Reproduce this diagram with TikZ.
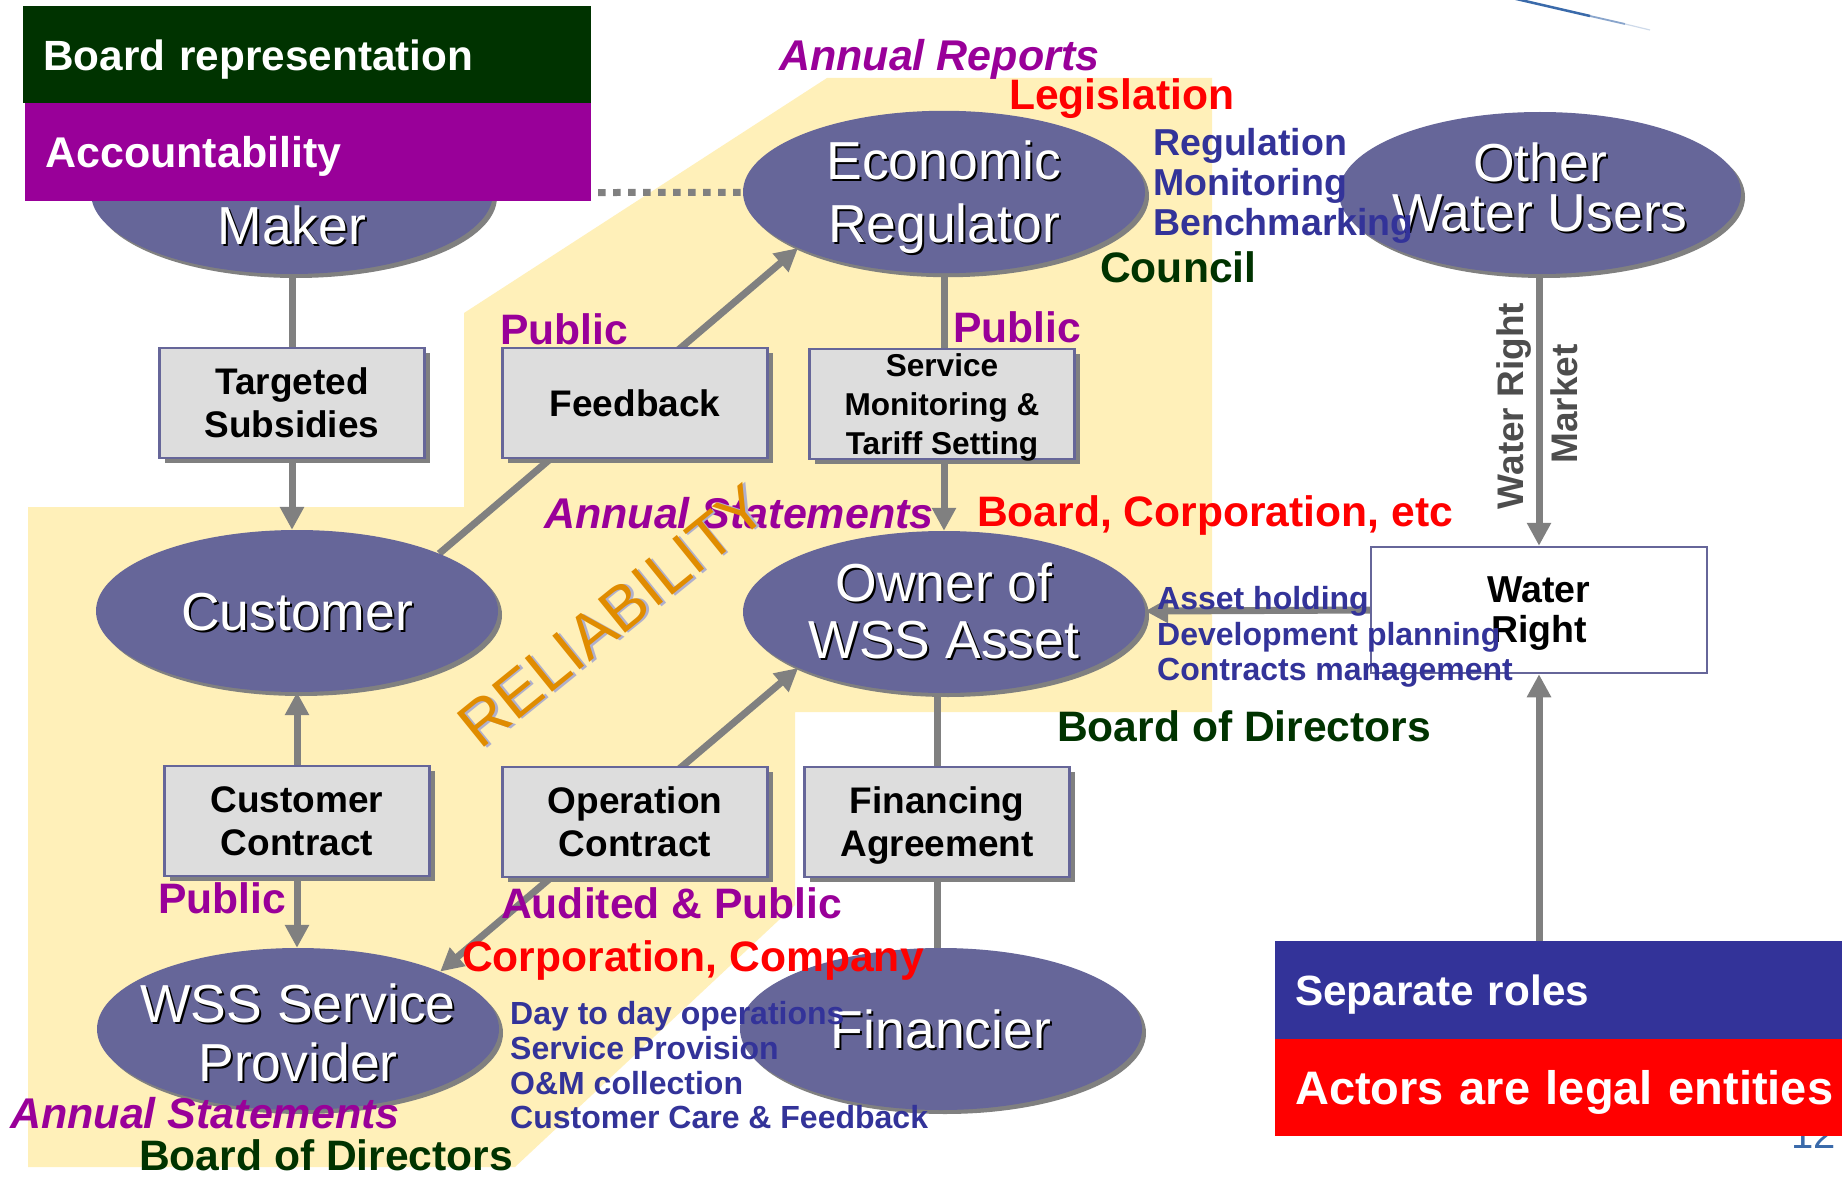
\documentclass[tikz,border=0pt]{standalone}
\usepackage{fontspec}
\setmainfont{Liberation Sans}
\usetikzlibrary{shapes.geometric,arrows.meta,shadows,backgrounds}
\definecolor{ellfill}{HTML}{666699}
\definecolor{boxfill}{HTML}{DDDDDD}
\definecolor{boxline}{HTML}{666699}
\definecolor{shgray}{HTML}{808080}
\definecolor{conngray}{HTML}{808080}
\definecolor{paleyellow}{RGB}{255,240,185}
\definecolor{dgreen}{HTML}{003300}
\definecolor{purp}{HTML}{990099}
\definecolor{dblue}{HTML}{333399}
\definecolor{redc}{HTML}{FF0000}
\definecolor{wrgray}{HTML}{4D4D4D}
\definecolor{relorange}{HTML}{E08C00}
\definecolor{relshadow}{RGB}{175,175,205}
\definecolor{pageblue}{HTML}{3A6AAA}

\pgfdeclarelayer{bgl}
\pgfdeclarelayer{linel}
\pgfsetlayers{bgl,linel,main}

\newcommand{\shd}[2]{\leavevmode\rlap{\kern2pt\raisebox{-2pt}{\color{#1}#2}}#2}
\newcommand{\shv}[2]{\raisebox{#1}[\height][\depth]{\shd{black}{#2}}}

\tikzset{
 ell/.style={ellipse, fill=ellfill, minimum width=402pt, minimum height=162pt, inner xsep=-40pt, inner ysep=0pt,
   text=white, align=center, font=\fontsize{53.5pt}{60pt}\selectfont,
   drop shadow={shadow xshift=4pt, shadow yshift=-4pt, fill=shgray, opacity=1}},
 gbox/.style={rectangle, fill=boxfill, draw=boxline, line width=2.5pt, minimum width=265pt,
   minimum height=110pt, inner sep=0pt, align=center, text depth=0pt, font=\bfseries\fontsize{37pt}{43pt}\selectfont,
   drop shadow={shadow xshift=5pt, shadow yshift=-5pt, fill=shgray, opacity=1}},
 conn/.style={draw=conngray, line width=7pt},
 arr/.style={conn, -{Triangle[length=23pt,width=23pt]}},
 lbl/.style={anchor=base west, inner sep=0pt, font=\bfseries\fontsize{42.6pt}{48pt}\selectfont},
 lbli/.style={anchor=base west, inner sep=0pt, font=\bfseries\itshape\fontsize{43pt}{48pt}\selectfont},
 sml/.style={anchor=base west, inner sep=0pt, text=dblue, font=\bfseries\fontsize{32pt}{36pt}\selectfont},
 band/.style={rectangle, anchor=north west, inner xsep=20pt, inner ysep=0pt, text=white, align=left, text depth=0pt},
}

\begin{document}
\begin{tikzpicture}[x=1pt,y=-1pt]
\useasboundingbox (0,0) rectangle (1842,1177);
\begin{pgfonlayer}{bgl}
\fill[white] (0,0) rectangle (1842,1177);
\fill[paleyellow] (28,507) -- (464,507) -- (464,313) -- (827,78) -- (1212,78) -- (1212,712)
  -- (795,712) -- (795,905) -- (515,1167) -- (28,1167) -- cycle;
\draw[pageblue, line width=2.5pt] (1512,-2) -- (1590,16);
\draw[pageblue!60, line width=1.8pt] (1590,16) -- (1625,24);
\draw[pageblue!25, line width=1.2pt] (1625,24) -- (1650,30);
\node[anchor=base east, inner sep=0pt, text=pageblue, font=\fontsize{40pt}{48pt}\selectfont] (pagenum) at (1836,1148) {12};
\end{pgfonlayer}

% ellipses
\node[ell, text height=102pt, text depth=0pt] (maker) at (292,193) {\shd{black}{Maker}};
\node[ell, font=\fontsize{53.5pt}{63pt}\selectfont] (er) at (944,192) {\shv{-6pt}{Economic}\\\shv{-6pt}{Regulator}};
\node[ell, font=\fontsize{53.5pt}{50pt}\selectfont] (owu) at (1540,193) {\shv{5pt}{Other}\\\shv{5pt}{Water Users}};
\node[ell] (cust) at (297,611) {\shv{-2pt}{Customer}};
\node[ell, font=\fontsize{53.5pt}{57pt}\selectfont] (owner) at (944,612) {\shd{black}{Owner of}\\\shd{black}{WSS Asset}};
\node[ell, font=\fontsize{53.5pt}{59pt}\selectfont] (wsp) at (298,1029) {\shv{-5pt}{WSS Service}\\\shv{-5pt}{Provider}};
\node[ell] (fin) at (941,1029) {\shv{-1pt}{Financier}};

% boxes
\node[gbox] (ts) at (292,403) {Targeted\\Subsidies};
\node[gbox] (fb) at (635,403) {Feedback};
\node[gbox, font=\bfseries\fontsize{31.6pt}{39pt}\selectfont] (smt) at (942,404) {Service\\Monitoring \&\\Tariff Setting};
\node[gbox] (cc) at (297,821) {Customer\\Contract};
\node[gbox] (oc) at (635,822) {Operation\\Contract};
\node[gbox] (fa) at (937,822) {Financing\\Agreement};
\node[rectangle, draw=boxline, fill=white, line width=2.5pt, minimum width=336pt, minimum height=126pt,
  inner sep=0pt, align=center, text depth=0pt, font=\bfseries\fontsize{37.5pt}{40pt}\selectfont] (wr) at (1539,610) {Water\\Right};

% bands
\node[band, fill=dgreen, text width=528pt, minimum height=97pt, font=\bfseries\fontsize{42.3pt}{48pt}\selectfont] (brd) at (23,6) {Board representation};
\node[band, fill=purp, text width=526pt, minimum height=98pt, font=\bfseries\fontsize{43pt}{48pt}\selectfont] (acc) at (25,103) {Accountability};
\node[band, fill=dblue, text width=527pt, minimum height=98pt, font=\bfseries\fontsize{42.3pt}{48pt}\selectfont] (sep) at (1275,941) {Separate roles};
\node[band, fill=redc, text width=527pt, minimum height=97pt, font=\bfseries\fontsize{47pt}{54pt}\selectfont] (act) at (1275,1039) {\mbox{Actors are legal entities}};

% connectors
\begin{pgfonlayer}{linel}
\draw[conn, dash pattern=on 7.5pt off 7.5pt] (maker) -- (er);
\draw[conn] (maker.south) -- (ts.north);
\draw[arr] (ts.south) -- (ts.south |- cust.north);
\draw[arr] (cust.22) -- (er.201);
\draw[arr] (er.south) -- (owner.north);
\draw[arr] (wr.north |- owu.south) -- (wr.north);
\draw[arr] (wr.west) -- (owner);
\draw[arr] (wr.south |- sep.north) -- (wr.south);
\draw[arr] (cc.north) -- (cc.north |- cust.south);
\draw[arr] (cc.south) -- (cc.south |- wsp.north);
\draw[conn, {Triangle[length=23pt,width=23pt]}-{Triangle[length=23pt,width=23pt]}] (wsp.22) -- (owner.201);
\draw[conn] (fa.north) -- (fa.north |- owner.south);
\draw[conn] (fa.south) -- (fa.south |- fin.north);
\end{pgfonlayer}

% labels
\node[lbli, text=purp] (annrep) at (779,71) {Annual Reports};
\node[lbl, text=redc] (legis) at (1009,110) {Legislation};
\node[sml, font=\bfseries\fontsize{37.5pt}{40pt}\selectfont] (reg1) at (1153,156) {Regulation};
\node[sml, font=\bfseries\fontsize{37.5pt}{40pt}\selectfont] (reg2) at (1153,196) {Monitoring};
\node[sml, font=\bfseries\fontsize{37.5pt}{40pt}\selectfont] (reg3) at (1153,236) {Benchmarking};
\node[lbl, text=dgreen] (council) at (1100,282) {Council};
\node[lbl, text=purp] (pub1) at (500,344) {Public};
\node[lbl, text=purp] (pub2) at (953,342) {Public};
\node[lbli, text=purp] (annst1) at (544,528) {Annual Statements};
\node[lbl, text=redc] (bce) at (977,526) {Board, Corporation, etc};
\node[sml] (ah) at (1157,609) {Asset holding};
\node[sml] (dp) at (1157,645) {Development planning};
\node[sml] (cm) at (1157,680) {Contracts management};
\node[lbl, text=dgreen] (bod1) at (1057,741) {Board of Directors};
\node[lbl, text=purp] (pub3) at (158,913) {Public};
\node[lbl, text=purp] (audp) at (501,918) {Audited \& Public};
\node[lbl, text=redc] (corp) at (462,971) {Corporation, Company};
\node[sml] (d1) at (510,1024) {Day to day operations};
\node[sml] (d2) at (510,1059) {Service Provision};
\node[sml] (d3) at (510,1094) {O\&M collection};
\node[sml] (d4) at (510,1128) {Customer Care \& Feedback};
\node[lbli, text=purp] (annst2) at (10,1128) {Annual Statements};
\node[lbl, text=dgreen] (bod2) at (139,1170) {Board of Directors};

\node[anchor=base, rotate=90, inner sep=0pt, text=wrgray, font=\bfseries\fontsize{37pt}{40pt}\selectfont] (wrl) at (1523,406) {Water Right};
\node[anchor=base, rotate=90, inner sep=0pt, text=wrgray, font=\bfseries\fontsize{37pt}{40pt}\selectfont] (mkt) at (1577,404) {Market};

\node[rotate=39, inner sep=0pt, text=relorange, font=\fontsize{63pt}{70pt}\selectfont] (rel) at (613,617) {\shd{relshadow}{RELIABILITY}};
\end{tikzpicture}
\end{document}
